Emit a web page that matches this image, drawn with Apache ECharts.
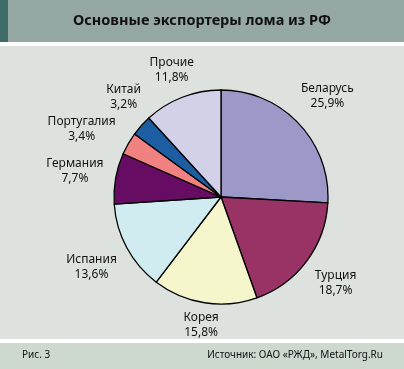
<!DOCTYPE html>
<html><head><meta charset="utf-8">
<script src="https://cdn.jsdelivr.net/npm/echarts@6/dist/echarts.min.js"></script>
<style>html,body{margin:0;padding:0;background:#fff}#c{width:404px;height:369px}</style>
</head><body><div id="c"></div>
<script>
const categories = ['Беларусь','Турция','Корея','Испания','Германия','Португалия','Китай','Прочие'];
const shares = [25.9, 18.7, 15.8, 13.6, 7.7, 3.4, 3.2, 11.8];
const colors = ['#9c99c9','#993366','#f6f6cd','#d1ecf0','#660c62','#f28282','#1d5ea3','#d3d1e8'];
const titleText = 'Основные экспортеры лома из РФ';
const figText = 'Рис. 3';
const sourceText = 'Источник: ОАО «РЖД», MetalTorg.Ru';

const FONT = '"Noto Sans", "Open Sans", sans-serif';
const CX = 221, CY = 197, R = 107, LH = 15, FS = 12;
const fmt = v => String(v).replace('.', ',') + '%';

// label placement: radial from slice mid-angle, spread apart where they collide
const ctx = document.createElement('canvas').getContext('2d');
ctx.font = FS + 'px ' + FONT;
const total = shares.reduce((a,b)=>a+b,0);
let acc = 0;
const angles = shares.map(v => { const m = (acc + v/2)/total*360; acc += v; return m; });
const sizes = categories.map((n,i) => ({w: Math.max(ctx.measureText(n).width, ctx.measureText(fmt(shares[i])).width), h: 2*LH}));
function place(a, s){
  const r = a*Math.PI/180, dx = Math.sin(r), dy = -Math.cos(r);
  const d = R + Math.abs(dx)*(s.w/2+10) + Math.abs(dy)*(s.h/2+4);
  return {x: CX+dx*d, y: CY+dy*d};
}
function overlap(p,s,q,t){
  return Math.abs(p.x-q.x) < (s.w+t.w)/2+2 && Math.abs(p.y-q.y) < (s.h+t.h)/2+2;
}
for (let it=0; it<300; it++){
  let moved = false;
  for (let i=0;i<angles.length;i++){
    const j=(i+1)%angles.length;
    if (overlap(place(angles[i],sizes[i]),sizes[i],place(angles[j],sizes[j]),sizes[j])){
      angles[i]-=0.5; angles[j]+=0.5; moved=true;
    }
  }
  if(!moved) break;
}
const labelPos = angles.map((a,i)=>place(a,sizes[i]));

const chart = echarts.init(document.getElementById('c'), null, {renderer:'canvas'});
chart.setOption({
  backgroundColor: '#ffffff',
  animation: false,
  graphic: [
    {type:'rect', shape:{x:0,y:0,width:404,height:42}, style:{fill:'#95a8a4'}, z:0},
    {type:'rect', shape:{x:0,y:0,width:8,height:42}, style:{fill:'#3e6b67'}, z:0},
    {type:'rect', shape:{x:0,y:46,width:404,height:293}, style:{fill:'#dee2de'}, z:0},
    {type:'rect', shape:{x:0,y:343,width:404,height:26}, style:{fill:'#cdd8cf'}, z:0},
    {type:'text', left:'center', top:13, style:{text:titleText, fill:'#111', font:'bold 14.5px '+FONT}, z:5},
    {type:'text', left:22, top:350, style:{text:figText, fill:'#111', font:'10px '+FONT}, z:5},
    {type:'text', right:21, top:350, style:{text:sourceText, fill:'#111', font:'10px '+FONT}, z:5}
  ],
  series: [{
    type:'pie',
    center:[CX, CY],
    radius:[0, R],
    startAngle:90,
    clockwise:true,
    avoidLabelOverlap:false,
    itemStyle:{borderColor:'#000', borderWidth:1.3},
    data: categories.map((n,i)=>({name:n, value:shares[i], itemStyle:{color:colors[i]}})),
    label:{
      show:true, position:'outside', color:'#111',
      fontFamily: FONT, fontSize:FS, lineHeight:LH, align:'center',
      formatter: p => p.name + '\n' + fmt(p.value)
    },
    labelLine:{show:false, length:5, length2:0},
    labelLayout: function(params){
      const p = labelPos[params.dataIndex];
      return {x: p.x, y: p.y, align:'center', verticalAlign:'middle'};
    }
  }]
});
</script></body></html>
